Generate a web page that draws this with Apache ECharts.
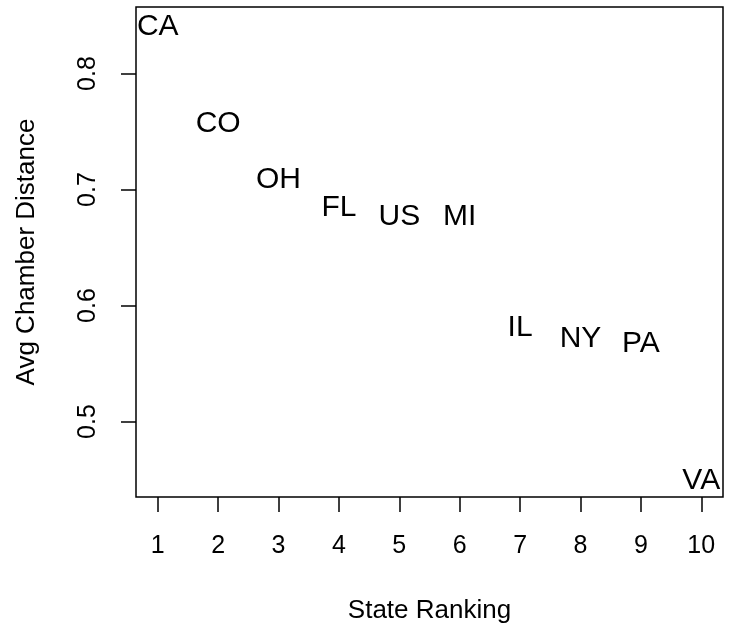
<!DOCTYPE html>
<html>
<head>
<meta charset="utf-8">
<script src="https://cdn.jsdelivr.net/npm/echarts@6/dist/echarts.min.js"></script>
<style>
html,body{margin:0;padding:0;background:#fff;}
#chart{width:731px;height:629px;}
</style>
</head>
<body>
<div id="chart"></div>
<script>
var states = ['CA','CO','OH','FL','US','MI','IL','NY','PA','VA'];
var rankings = [1,2,3,4,5,6,7,8,9,10];
var distances = [0.8417,0.7587,0.7099,0.6857,0.6784,0.6784,0.5827,0.5727,0.5684,0.4506];
var xTicks = [1,2,3,4,5,6,7,8,9,10];
var yTicks = [0.5,0.6,0.7,0.8];

var FONT = '"Liberation Sans", Arial, Helvetica, sans-serif';
var pts = states.map(function(s,i){ return [rankings[i], distances[i], s]; });

var xr = [Math.min.apply(null,rankings), Math.max.apply(null,rankings)];
var yr = [Math.min.apply(null,distances), Math.max.apply(null,distances)];
var xp = (xr[1]-xr[0])*0.04, yp = (yr[1]-yr[0])*0.04;

var chart = echarts.init(document.getElementById('chart'), null, {renderer:'canvas'});
chart.setOption({
  animation:false,
  backgroundColor:'#ffffff',
  grid:{left:136,right:8,top:7,bottom:131,show:true,borderColor:'#000',borderWidth:1.5,backgroundColor:'transparent'},
  xAxis:{
    type:'value', min:xr[0]-xp, max:xr[1]+xp,
    name:'State Ranking', nameLocation:'middle', nameGap:101,
    nameTextStyle:{fontFamily:FONT,fontSize:26,color:'#000'},
    axisLine:{show:false},
    splitLine:{show:false},
    axisTick:{show:true,customValues:xTicks,length:15,lineStyle:{color:'#000',width:1.5}},
    axisLabel:{customValues:xTicks,margin:37,fontFamily:FONT,fontSize:25,color:'#000'}
  },
  yAxis:{
    type:'value', min:yr[0]-yp, max:yr[1]+yp,
    name:'Avg Chamber Distance', nameLocation:'middle', nameGap:96, nameRotate:90,
    nameTextStyle:{fontFamily:FONT,fontSize:26,color:'#000'},
    axisLine:{show:false},
    splitLine:{show:false},
    axisTick:{show:true,customValues:yTicks,length:15,lineStyle:{color:'#000',width:1.5}},
    axisLabel:{customValues:yTicks,rotate:90,margin:35,fontFamily:FONT,fontSize:25,color:'#000',
      formatter:function(v){return v.toFixed(1);}}
  },
  series:[{
    type:'scatter',
    data:pts,
    symbolSize:0,
    silent:true,
    itemStyle:{opacity:1,color:'#000'},
    label:{show:true,position:'inside',offset:[0,2],formatter:function(p){return p.data[2];},
      fontFamily:FONT,fontSize:30,color:'#000',opacity:1,textBorderWidth:0}
  }]
});
</script>
</body>
</html>
